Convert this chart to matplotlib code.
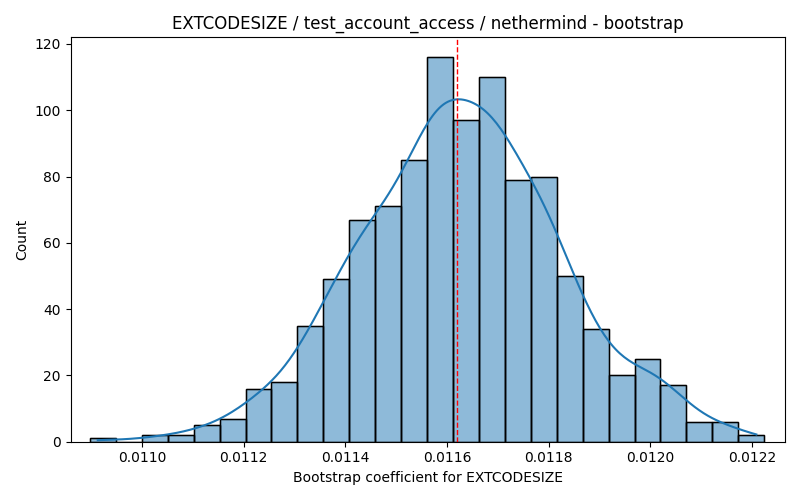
import numpy as np
import matplotlib
matplotlib.use("Agg")
import matplotlib.pyplot as plt

bin_left = 0.010898
bin_width = 0.0000510
counts = [1, 0, 2, 2, 5, 7, 16, 18, 35, 49, 67, 71, 85, 116, 97, 110, 79, 80, 50, 34, 20, 25, 17, 6, 6, 2]
mean_line = 0.011620

counts = np.array(counts, dtype=float)
edges = bin_left + bin_width * np.arange(len(counts) + 1)
centers = (edges[:-1] + edges[1:]) / 2

fig, ax = plt.subplots(figsize=(8, 5), dpi=100)
ax.bar(edges[:-1], counts, width=bin_width, align='edge', color='#1f77b4', alpha=0.5,
       edgecolor='black', linewidth=1)
ax.bar(edges[:-1], counts, width=bin_width, align='edge', fill=False,
       edgecolor='black', linewidth=1)

# KDE from binned counts
n = counts.sum()
mu = np.sum(counts * centers) / n
sd = np.sqrt(np.sum(counts * (centers - mu) ** 2) / n)
bw = sd * n ** (-1 / 5)
xs = np.linspace(edges[0] + bin_width * 0.3, edges[-1] - bin_width * 0.3, 300)
dens = np.sum(counts[None, :] * np.exp(-0.5 * ((xs[:, None] - centers[None, :]) / bw) ** 2), axis=1) / (n * bw * np.sqrt(2 * np.pi))
ax.plot(xs, dens * n * bin_width, color='#1f77b4', linewidth=1.5)

ax.axvline(mean_line, color='red', linestyle='--', linewidth=1)
ax.set_xticks([0.0110, 0.0112, 0.0114, 0.0116, 0.0118, 0.0120, 0.0122])
ax.set_xticklabels(['0.0110', '0.0112', '0.0114', '0.0116', '0.0118', '0.0120', '0.0122'])
ax.set_xlim(0.010860, 0.012265)
ax.set_ylim(0, 122)
ax.set_xlabel('Bootstrap coefficient for EXTCODESIZE')
ax.set_ylabel('Count')
ax.set_title('EXTCODESIZE / test_account_access / nethermind - bootstrap')
fig.tight_layout()
fig.savefig('out.png')
